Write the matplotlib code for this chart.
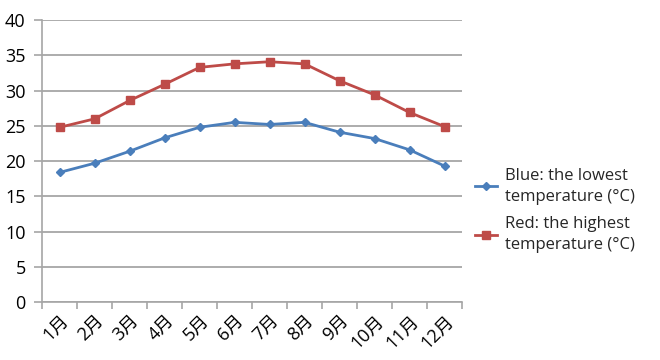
import matplotlib as mpl
mpl.use("Agg")
import matplotlib.pyplot as plt
import numpy as np

plt.rcParams['font.family'] = ['Open Sans', 'Noto Sans CJK SC', 'DejaVu Sans']

months = ["1月", "2月", "3月", "4月", "5月", "6月", "7月", "8月", "9月", "10月", "11月", "12月"]
low = [18.4, 19.7, 21.4, 23.3, 24.8, 25.5, 25.2, 25.5, 24.1, 23.2, 21.6, 19.3]
high = [24.8, 26.0, 28.6, 30.9, 33.3, 33.8, 34.1, 33.8, 31.4, 29.4, 26.9, 24.9]
label_low = "Blue: the lowest\ntemperature (°C)"
label_high = "Red: the highest\ntemperature (°C)"

fig = plt.figure(figsize=(6.6, 3.6), dpi=100)
ax = fig.add_axes([0.064, 0.161, 0.636, 0.783])

x = np.arange(len(months))
ax.plot(x, low, color="#4a7ebb", lw=2, marker="D", ms=4.5, label=label_low)
ax.plot(x, high, color="#be4b48", lw=2, marker="s", ms=6, label=label_high)

ax.set_xlim(-0.5, len(months) - 0.5)
ax.set_ylim(0, 40)
ax.set_yticks(np.arange(0, 41, 5))
ax.yaxis.grid(True, color="#a6a6a6", lw=1.3)
ax.set_axisbelow(True)

# category boundaries get tick marks, labels sit at centres
ax.set_xticks(np.arange(-0.5, len(months), 1.0))
ax.set_xticklabels([])
ax.set_xticks(x, minor=True)
ax.set_xticklabels(months, minor=True, rotation=45, ha="right", va="top",
                   rotation_mode="anchor", fontsize=13)
ax.tick_params(axis="x", which="minor", length=0, pad=7)
ax.tick_params(axis="x", which="major", length=5, color="#a6a6a6", width=1.2)
ax.tick_params(axis="y", length=6, color="#a6a6a6", width=1.2, labelsize=13, pad=6)

for s in ["top", "right"]:
    ax.spines[s].set_visible(False)
for s in ["left", "bottom"]:
    ax.spines[s].set_color("#a6a6a6")
    ax.spines[s].set_linewidth(1.2)

leg = ax.legend(loc="center left", bbox_to_anchor=(0.995, 0.325), frameon=False,
                fontsize=12, handlelength=1.3, labelspacing=0.7, handletextpad=0.5)
for t in leg.get_texts():
    t.set_linespacing(1.4)
    t.set_color("#262626")

fig.savefig("out.png")
